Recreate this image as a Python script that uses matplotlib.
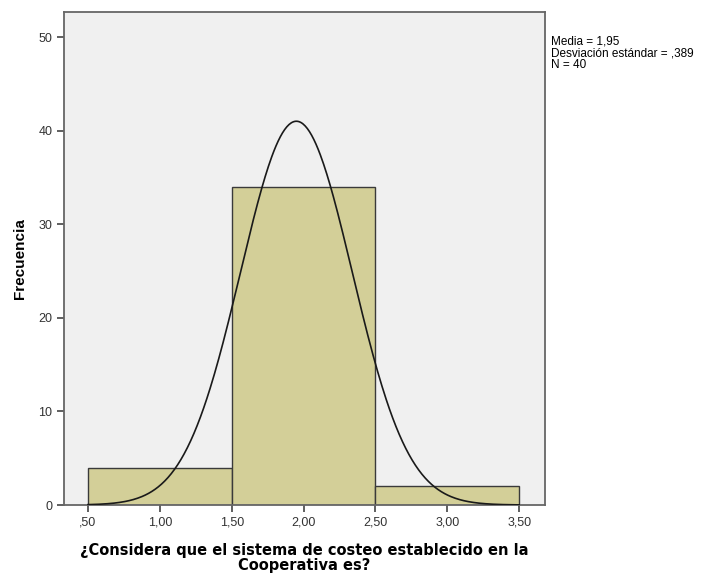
import numpy as np
import matplotlib
matplotlib.use("Agg")
import matplotlib.pyplot as plt

# Data
bin_edges = [0.5, 1.5, 2.5, 3.5]
frequencies = [4, 34, 2]
mean = 1.95
std = 0.389
n = 40
xtick_vals = [0.5, 1.0, 1.5, 2.0, 2.5, 3.0, 3.5]
xtick_labels = [",50", "1,00", "1,50", "2,00", "2,50", "3,00", "3,50"]
ytick_vals = [0, 10, 20, 30, 40, 50]

fig = plt.figure(figsize=(7.05, 5.75), dpi=100)
ax = fig.add_axes([64/705, 70/575, (545-64)/705, (505-12)/575])
ax.set_facecolor("#f0f0f0")

widths = np.diff(bin_edges)
ax.bar(bin_edges[:-1], frequencies, width=widths, align="edge",
       color="#d3cf98", edgecolor="#3a3a3a", linewidth=1.0, zorder=2)

xs = np.linspace(0.5, 3.5, 400)
bw = widths[0]
ys = n * bw * np.exp(-0.5 * ((xs - mean) / std) ** 2) / (std * np.sqrt(2 * np.pi))
ax.plot(xs, ys, color="#1a1a1a", linewidth=1.2, zorder=3)

ax.set_xlim(0.333, 3.68)
ax.set_ylim(0, 52.7)
ax.set_xticks(xtick_vals)
ax.set_xticklabels(xtick_labels, family="Liberation Sans", fontsize=9, color="#333333")
ax.set_yticks(ytick_vals)
ax.set_yticklabels([str(v) for v in ytick_vals], family="Liberation Sans", fontsize=9, color="#333333")
ax.tick_params(direction="out", length=5, width=1.2, color="#444444")
for s in ax.spines.values():
    s.set_color("#666666")
    s.set_linewidth(1.3)

ax.set_ylabel("Frecuencia", family="Liberation Sans", fontweight="bold", fontsize=11, labelpad=8)
ax.set_xlabel("¿Considera que el sistema de costeo establecido en la\nCooperativa es?",
              family="DejaVu Sans", fontweight="bold", fontsize=10.5, labelpad=10, linespacing=1.05)

fig.text(551/705, 1 - 36/575, "Media = 1,95\nDesviación estándar = ,389\nN = 40",
         family="Liberation Sans", fontsize=8.5, va="top", ha="left", linespacing=0.95)

fig.savefig("out.png", dpi=100)
